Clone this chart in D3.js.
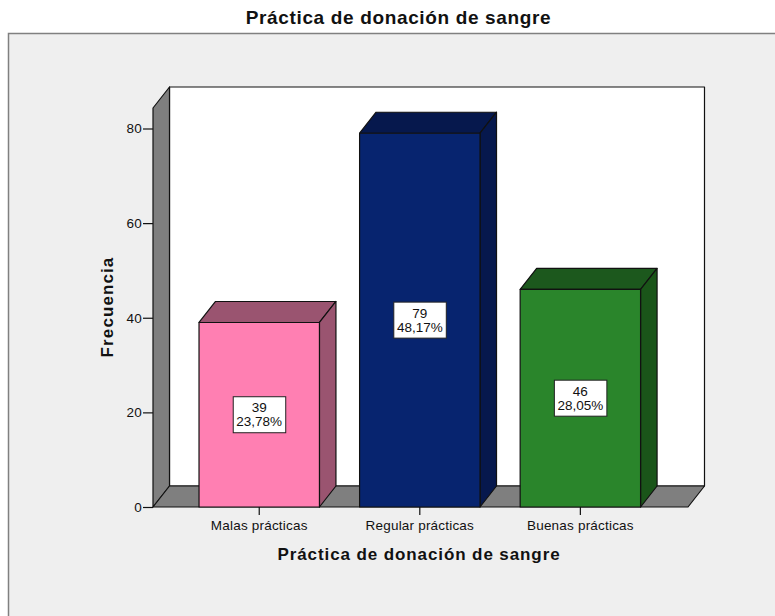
<!DOCTYPE html>
<html><head><meta charset="utf-8">
<script src="https://cdn.jsdelivr.net/npm/d3@7"></script>
<style>html,body{margin:0;padding:0;background:#fff}svg{display:block}text{font-family:"Liberation Sans",Arial,sans-serif;fill:#111}</style>
</head><body><div id="c"></div>
<script>
const categories=["Malas prácticas","Regular prácticas","Buenas prácticas"];
const counts=[39,79,46];
const percents=["23,78%","48,17%","28,05%"];
const frontColors=["#ff7fb2","#07246f","#2a852b"];
const topColors=["#9a5470","#06184d","#1c581d"];
const sideColors=["#9a5470","#06184d","#1a5519"];
const yTicks=[0,20,40,60,80];
const titleText="Práctica de donación de sangre";
const yLabel="Frecuencia";

const W=775,H=616,dx=16.5,dy=-21;
const svg=d3.select("#c").append("svg").attr("width",W).attr("height",H);
const x=d3.scaleBand().domain(categories).range([152.3,687.3]).paddingInner(0.25).paddingOuter(0.291);
const y=d3.scaleLinear().domain([0,80]).range([507,128.5]);
const yTop=y.invert(108);

svg.append("rect").attr("x",8.5).attr("y",33.5).attr("width",W+10).attr("height",H+10)
  .attr("fill","#efefef").attr("stroke","#808080").attr("stroke-width",1.5);
const line=d3.line();
const poly=(pts,fill)=>svg.append("path").attr("d",line(pts)+"Z").attr("fill",fill)
  .attr("stroke","#111").attr("stroke-width",1.2).attr("stroke-linejoin","round");
const x0=153,x1=688;
// back wall
poly([[x0+dx,y(yTop)+dy],[x1+dx,y(yTop)+dy],[x1+dx,y(0)+dy],[x0+dx,y(0)+dy]],"#ffffff");
// side wall
poly([[x0,y(yTop)],[x0+dx,y(yTop)+dy],[x0+dx,y(0)+dy],[x0,y(0)]],"#7f7f7f");
// floor
poly([[x0,y(0)],[x0+dx,y(0)+dy],[x1+dx,y(0)+dy],[x1,y(0)]],"#7f7f7f");

categories.forEach((c,i)=>{
  const l=x(c),r=l+x.bandwidth(),t=y(counts[i]),b=y(0);
  poly([[l,t],[l+dx,t+dy],[r+dx,t+dy],[r,t]],topColors[i]);
  poly([[r,t],[r+dx,t+dy],[r+dx,b+dy],[r,b]],sideColors[i]);
  poly([[l,t],[r,t],[r,b],[l,b]],frontColors[i]);
  const cx=(l+r)/2,cy=y(counts[i]/2);
  svg.append("rect").attr("x",cx-26).attr("y",cy-18).attr("width",52.5).attr("height",36)
    .attr("fill","#fff").attr("stroke","#222").attr("stroke-width",1);
  svg.append("text").attr("x",cx).attr("y",cy-2.5).attr("text-anchor","middle").attr("font-size",13.5).text(counts[i]);
  svg.append("text").attr("x",cx).attr("y",cy+11.5).attr("text-anchor","middle").attr("font-size",13.5).text(percents[i]);
});

const yAxis=d3.axisLeft(y).tickValues(yTicks).tickSize(10).tickPadding(1).tickFormat(d3.format("d"));
const ga=svg.append("g").attr("transform",`translate(${x0},0)`).call(yAxis);
ga.select(".domain").remove();
ga.selectAll("line").attr("stroke","#111").attr("stroke-width",1.2);
ga.selectAll("text").attr("font-size",13.5).attr("letter-spacing",0.2);

const xAxis=d3.axisBottom(x).tickSize(8).tickPadding(5);
const gx=svg.append("g").attr("transform",`translate(0,${y(0)})`).call(xAxis);
gx.select(".domain").remove();
gx.selectAll("line").attr("stroke","#111").attr("stroke-width",1.2);
gx.selectAll("text").attr("font-size",13.5).attr("letter-spacing",0.2);

svg.append("text").attr("x",398.5).attr("y",24).attr("text-anchor","middle").attr("font-size",19).attr("font-weight","bold").attr("letter-spacing",0.65).text(titleText);
svg.append("text").attr("x",419).attr("y",560).attr("text-anchor","middle").attr("font-size",17).attr("font-weight","bold").attr("letter-spacing",0.9).text(titleText);
svg.append("text").attr("transform","translate(113,307) rotate(-90)").attr("text-anchor","middle").attr("font-size",17).attr("font-weight","bold").attr("letter-spacing",1.1).text(yLabel);
</script></body></html>
